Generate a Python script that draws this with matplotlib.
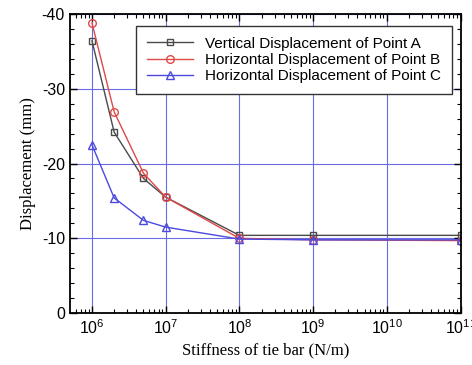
import numpy as np
import matplotlib
matplotlib.use('Agg')
import matplotlib.pyplot as plt
from matplotlib.ticker import LogLocator, MultipleLocator, FuncFormatter

# stiffness of tie bar (N/m)
stiffness = [1e6, 2e6, 5e6, 1e7, 1e8, 1e9, 1e11]
# displacement (mm)
disp_A = [-36.4, -24.2, -18.0, -15.5, -10.4, -10.4, -10.4]
disp_B = [-38.8, -26.9, -18.7, -15.5, -10.0, -9.8, -9.7]
disp_C = [-22.5, -15.4, -12.4, -11.5, -9.9, -9.8, -9.8]
labels = ['Vertical Displacement of Point A',
          'Horizontal Displacement of Point B',
          'Horizontal Displacement of Point C']

fig = plt.figure(figsize=(4.72, 3.65), dpi=100)
ax = fig.add_axes([0.148, 0.142, 0.829, 0.820])

ax.plot(stiffness, disp_A, color='#4a4a4a', marker='s', mfc='none', ms=5, lw=1, label=labels[0])
ax.plot(stiffness, disp_B, color='#e04848', marker='o', mfc='none', ms=5.5, lw=1, label=labels[1])
ax.plot(stiffness, disp_C, color='#4a4ae0', marker='^', mfc='none', ms=5.5, lw=1, label=labels[2])

ax.set_xscale('log')
ax.set_xlim(10**5.7, 1.02e11)
ax.set_ylim(0, -40)

ax.xaxis.set_major_locator(LogLocator(base=10, numticks=20))
ax.xaxis.set_minor_locator(LogLocator(base=10, subs=np.arange(2, 10), numticks=20))
ax.yaxis.set_major_locator(MultipleLocator(10))
ax.yaxis.set_minor_locator(MultipleLocator(2))
ax.yaxis.set_major_formatter(FuncFormatter(lambda v, p: '%d' % v))

ax.grid(True, which='major', color='#6b6be6', lw=0.8)
ax.tick_params(which='both', direction='in', top=True, right=True, labelsize=11.5)
ax.tick_params(which='major', length=5, width=1)
ax.tick_params(which='minor', length=3, width=0.8)
for lab in ax.get_xticklabels() + ax.get_yticklabels():
    lab.set_family('Liberation Sans')
for s in ax.spines.values():
    s.set_linewidth(1.3)

ax.set_xlabel('Stiffness of tie bar (N/m)', family='Liberation Serif', fontsize=12)
ax.set_ylabel('Displacement (mm)', family='Liberation Serif', fontsize=12)

leg = ax.legend(loc='upper right', prop={'family': 'Liberation Sans', 'size': 11},
                fancybox=False, edgecolor='#333333', framealpha=1,
                handlelength=3, borderpad=0.7, labelspacing=0.15,
                bbox_to_anchor=(0.995, 0.985))
leg.get_frame().set_linewidth(1)

fig.savefig('out.png', dpi=100)
